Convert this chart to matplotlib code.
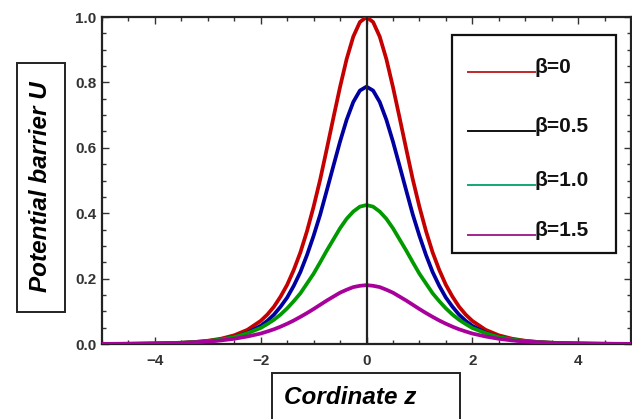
import matplotlib
matplotlib.use("Agg")
import matplotlib.pyplot as plt
from matplotlib.patches import Rectangle
from matplotlib.lines import Line2D
from matplotlib.ticker import MultipleLocator

plt.rcParams['font.family'] = ['Liberation Sans', 'DejaVu Sans']

# ---- data ----
z = [-5.0, -4.75, -4.5, -4.25, -4.0, -3.75, -3.5, -3.25, -3.0, -2.75, -2.5, -2.25,
     -2.0, -1.875, -1.75, -1.625, -1.5, -1.375, -1.25, -1.125, -1.0, -0.875,
     -0.75, -0.625, -0.5, -0.375, -0.25, -0.125, 0.0,
     0.125, 0.25, 0.375, 0.5, 0.625, 0.75, 0.875, 1.0, 1.125, 1.25, 1.375,
     1.5, 1.625, 1.75, 1.875, 2.0,
     2.25, 2.5, 2.75, 3.0, 3.25, 3.5, 3.75, 4.0, 4.25, 4.5, 4.75, 5.0]

u_red = [0.0002, 0.0003, 0.0005, 0.0008, 0.0013, 0.0022, 0.0036, 0.0060, 0.0099, 0.0162, 0.0266, 0.0435,
         0.0707, 0.0899, 0.114, 0.1448, 0.181, 0.2266, 0.280, 0.345, 0.420, 0.5033,
         0.597, 0.6924, 0.786, 0.8716, 0.940, 0.9845, 1.000,
         0.9845, 0.940, 0.8716, 0.786, 0.6924, 0.597, 0.5033, 0.420, 0.345, 0.280, 0.2266,
         0.181, 0.1448, 0.114, 0.0899, 0.0707,
         0.0435, 0.0266, 0.0162, 0.0099, 0.0060, 0.0036, 0.0022, 0.0013, 0.0008, 0.0005, 0.0003, 0.0002]

u_blue = [0.0002, 0.0002, 0.0004, 0.0006, 0.0010, 0.0017, 0.0028, 0.0047, 0.0078, 0.0128, 0.0209, 0.0342,
          0.0556, 0.0708, 0.0897, 0.114, 0.142, 0.178, 0.220, 0.272, 0.331, 0.396,
          0.470, 0.545, 0.619, 0.686, 0.740, 0.775, 0.787,
          0.775, 0.740, 0.686, 0.619, 0.545, 0.470, 0.396, 0.331, 0.272, 0.220, 0.178,
          0.142, 0.114, 0.0897, 0.0708, 0.0556,
          0.0342, 0.0209, 0.0128, 0.0078, 0.0047, 0.0028, 0.0017, 0.0010, 0.0006, 0.0004, 0.0002, 0.0002]

u_green = [0.0003, 0.0004, 0.0007, 0.0011, 0.0016, 0.0025, 0.0040, 0.0060, 0.0090, 0.0140, 0.0210, 0.0330,
           0.0490, 0.061, 0.0740, 0.090, 0.109, 0.131, 0.155, 0.185, 0.215, 0.250,
           0.286, 0.320, 0.354, 0.383, 0.405, 0.420, 0.425,
           0.420, 0.405, 0.383, 0.354, 0.320, 0.286, 0.250, 0.215, 0.185, 0.155, 0.131,
           0.109, 0.090, 0.0740, 0.061, 0.0490,
           0.0330, 0.0210, 0.0140, 0.0090, 0.0060, 0.0040, 0.0025, 0.0016, 0.0011, 0.0007, 0.0004, 0.0003]

u_magenta = [0.0004, 0.0006, 0.0008, 0.0012, 0.0017, 0.0025, 0.0036, 0.0054, 0.0077, 0.0110, 0.0160, 0.0230,
             0.0320, 0.0383, 0.0450, 0.0530, 0.062, 0.0719, 0.083, 0.0946, 0.107, 0.120,
             0.133, 0.145, 0.157, 0.166, 0.174, 0.178, 0.180,
             0.178, 0.174, 0.166, 0.157, 0.145, 0.133, 0.120, 0.107, 0.0946, 0.083, 0.0719,
             0.062, 0.0530, 0.0450, 0.0383, 0.0320,
             0.0230, 0.0160, 0.0110, 0.0077, 0.0054, 0.0036, 0.0025, 0.0017, 0.0012, 0.0008, 0.0006, 0.0004]

legend_labels = ['β=0', 'β=0.5', 'β=1.0', 'β=1.5']
legend_colors = ['#c0282a', '#111111', '#10a878', '#a0288c']

x_ticks = [-4, -2, 0, 2, 4]
y_ticks = [0.0, 0.2, 0.4, 0.6, 0.8, 1.0]

# ---- figure ----
W, H = 632, 419
fig = plt.figure(figsize=(W / 100, H / 100), dpi=100)
ax = fig.add_axes([102 / W, 1 - 344 / H, 529 / W, 327 / H])

lw = 2.7
ax.plot(z, u_red, color='#c40000', lw=lw, zorder=3)
ax.plot(z, u_blue, color='#0000a0', lw=lw, zorder=3)
ax.plot(z, u_green, color='#009a00', lw=lw, zorder=3)
ax.plot(z, u_magenta, color='#a8009a', lw=lw, zorder=3)
ax.axvline(0, ymin=0, ymax=1, color='#222222', lw=1.6, zorder=4)

ax.set_xlim(-5, 5)
ax.set_ylim(0, 1.0)
ax.set_xticks(x_ticks)
ax.set_xticklabels(['\u2212' + str(-t) if t < 0 else str(t) for t in x_ticks])
ax.set_yticks(y_ticks)
ax.set_yticklabels([f'{t:.1f}' for t in y_ticks])
ax.xaxis.set_minor_locator(MultipleLocator(0.5))
ax.yaxis.set_minor_locator(MultipleLocator(0.05))
ax.tick_params(which='both', direction='in', top=True, right=True, color='#333333', width=1.0)
ax.tick_params(which='major', length=5)
ax.tick_params(which='minor', length=3)
ax.tick_params(axis='y', which='major', pad=4, labelsize=11, labelcolor='#333333')
ax.tick_params(axis='x', which='major', pad=7, labelsize=11, labelcolor='#333333')
for lab in ax.get_xticklabels() + ax.get_yticklabels():
    lab.set_fontweight('bold')
for sp in ax.spines.values():
    sp.set_linewidth(1.6)
    sp.set_color('#222222')

# ---- legend (drawn manually) ----
ax.add_patch(Rectangle((452 / W, 1 - 253 / H), (616 - 452) / W, (253 - 35) / H,
                       transform=fig.transFigure, fill=True, facecolor='white',
                       edgecolor='#111111', lw=1.6, zorder=5))
ys = [72, 131, 185, 235]
for yy, lab, col in zip(ys, legend_labels, legend_colors):
    fig.add_artist(Line2D([468 / W, 535 / W], [1 - yy / H, 1 - yy / H], color=col, lw=1.4, zorder=6))
    fig.text(535 / W, 1 - (yy + 1) / H, lab, fontsize=15, fontweight='bold', color='#111111',
             ha='left', va='baseline', zorder=7)

# ---- axis label boxes ----
fig.add_artist(Rectangle((17 / W, 1 - 312 / H), 48 / W, (312 - 63) / H,
                         transform=fig.transFigure, fill=False, edgecolor='#222222', lw=1.4))
fig.text(41 / W, 1 - 187 / H, 'Potential barrier U', rotation=90, fontsize=17.5,
         fontweight='bold', fontstyle='italic', ha='center', va='center', color='black')

fig.add_artist(Rectangle((272 / W, 1 - 430 / H), (460 - 272) / W, (430 - 373) / H,
                         transform=fig.transFigure, fill=False, edgecolor='#222222', lw=1.4))
fig.text(350 / W, 1 - 397 / H, 'Cordinate z', fontsize=17.5, fontweight='bold',
         fontstyle='italic', ha='center', va='center', color='black')

fig.savefig('out.png', dpi=100)
